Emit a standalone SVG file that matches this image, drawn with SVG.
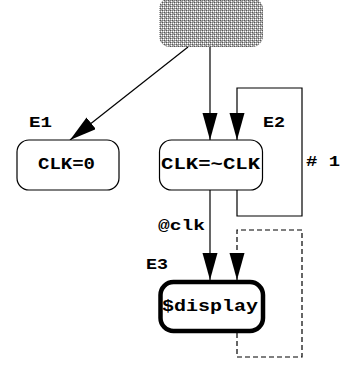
<svg xmlns="http://www.w3.org/2000/svg" width="343" height="366" viewBox="0 0 343 366">
<defs>
<pattern id="dots" width="4" height="4" patternUnits="userSpaceOnUse">
<rect width="4" height="4" fill="#a8a8a8"/>
<rect x="0" y="0" width="1" height="1" fill="#555"/>
<rect x="2" y="2" width="1" height="1" fill="#555"/>
<rect x="1" y="3" width="1" height="1" fill="#fff"/>
<rect x="3" y="1" width="1" height="1" fill="#fff"/>
<rect x="3" y="3" width="1" height="1" fill="#fff"/>
<rect x="2" y="0" width="1" height="1" fill="#777"/>
<rect x="0" y="2" width="1" height="1" fill="#777"/>
</pattern>
<marker id="ah" markerUnits="userSpaceOnUse" markerWidth="28" markerHeight="16" refX="27" refY="7.5" orient="auto">
<path d="M0,0 L27,7.5 L0,15 Z" fill="#000"/>
</marker>
</defs>
<style>
.node{fill:#fff;stroke:#000;stroke-width:1.2}
.t{font-family:"Liberation Mono","DejaVu Sans Mono",monospace;font-weight:bold;font-size:16px;fill:#000}
.lbl{font-family:"Liberation Mono","DejaVu Sans Mono",monospace;font-weight:bold;font-size:15px;fill:#000}
.c{fill:none;stroke:#000;stroke-width:1.2}
</style>
<g id="start">
<rect x="159" y="-2" width="104" height="49" rx="11" fill="url(#dots)"/>
</g>
<g id="connectors">
<path class="c" d="M188,47 L70,140" marker-end="url(#ah)"/>
<path class="c" d="M210,47 V140" marker-end="url(#ah)"/>
<path class="c" d="M237,190 V216 H302 V88 H237 V140" marker-end="url(#ah)"/>
<path class="c" d="M210,190 V280" marker-end="url(#ah)"/>
<path class="c" d="M237,333 V357 H302 V230 H237 V280" stroke-dasharray="5,3" marker-end="url(#ah)"/>
</g>
<g id="e1">
<rect class="node" x="17" y="140" width="102" height="50" rx="12"/>
<text class="t" x="38" y="169" textLength="57" lengthAdjust="spacingAndGlyphs">CLK=0</text>
</g>
<g id="e2">
<rect class="node" x="159.5" y="140" width="103" height="50" rx="12"/>
<text class="t" x="161" y="169" textLength="99" lengthAdjust="spacingAndGlyphs">CLK=~CLK</text>
</g>
<g id="e3">
<rect x="160.5" y="282" width="102.5" height="49" rx="13" fill="#fff" stroke="#000" stroke-width="4.5"/>
<text class="t" x="162" y="311" textLength="96" lengthAdjust="spacingAndGlyphs">$display</text>
</g>
<g id="labels">
<text class="lbl" x="29" y="127" textLength="23" lengthAdjust="spacingAndGlyphs">E1</text>
<text class="lbl" x="263" y="127" textLength="22" lengthAdjust="spacingAndGlyphs">E2</text>
<text class="lbl" x="146" y="269" textLength="22" lengthAdjust="spacingAndGlyphs">E3</text>
<text class="lbl" x="158" y="230" textLength="47" lengthAdjust="spacingAndGlyphs">@clk</text>
<text class="lbl" x="306" y="166" textLength="34" lengthAdjust="spacingAndGlyphs"># 1</text>
</g>
</svg>
